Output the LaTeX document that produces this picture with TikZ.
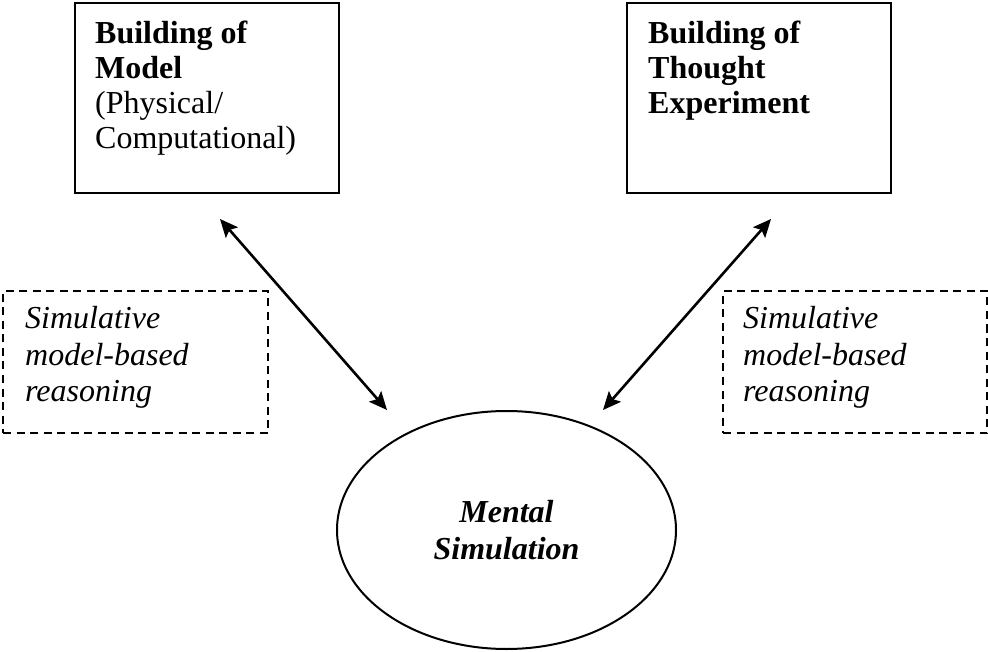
\documentclass[tikz,border=0pt]{standalone}
\usepackage{fontspec}
\setmainfont{Liberation Serif}
\usetikzlibrary{shapes.geometric,arrows.meta}
\begin{document}
\begin{tikzpicture}[x=1pt,y=-1pt,
  solidbox/.style={draw, line width=2.4pt, rectangle, inner sep=0pt},
  dashbox/.style={draw, line width=2pt, dash pattern=on 8pt off 5.5pt, rectangle, inner sep=0pt},
  txt/.style={anchor=north west, align=left, inner sep=0pt, font=\fontsize{32}{35}\selectfont},
  link/.style={line width=2.6pt, {Stealth[length=18pt,width=16pt,inset=3.5pt]}-{Stealth[length=18pt,width=16pt,inset=3.5pt]}}]
\useasboundingbox (0,0) rectangle (988,652);
% top boxes
\node[solidbox, minimum width=264pt, minimum height=190pt] (model) at (207,98) {};
\node[solidbox, minimum width=264pt, minimum height=190pt] (thought) at (759,98) {};
\node[txt] (modeltxt) at (95,20.5) {\textbf{Building of}\\\textbf{Model}\\(Physical/\\Computational)};
\node[txt] (thoughttxt) at (648,20.5) {\textbf{Building of}\\\textbf{Thought}\\\textbf{Experiment}};
% dashed boxes
\node[dashbox, minimum width=265pt, minimum height=142pt] (leftdash) at (135.5,362) {};
\node[dashbox, minimum width=264pt, minimum height=142pt] (rightdash) at (855,362) {};
\node[txt, font=\fontsize{32}{36.5}\selectfont] (lefttxt) at (25,306.5) {\textit{Simulative}\\\textit{model-based}\\\textit{reasoning}};
\node[txt, font=\fontsize{32}{36.5}\selectfont] (righttxt) at (743,306.5) {\textit{Simulative}\\\textit{model-based}\\\textit{reasoning}};
% ellipse
\node[draw, ellipse, line width=2pt, minimum width=339pt, minimum height=238pt, inner sep=0pt, align=center, font=\fontsize{32}{37}\selectfont\bfseries\itshape] (ms) at (506.5,530) {Mental\\Simulation};
% arrows
\coordinate (a1) at (220,219);
\coordinate (a2) at (387,410);
\coordinate (b1) at (771,219);
\coordinate (b2) at (603,410);
\draw[link] (a1) -- (a2);
\draw[link] (b1) -- (b2);
\end{tikzpicture}
\end{document}
